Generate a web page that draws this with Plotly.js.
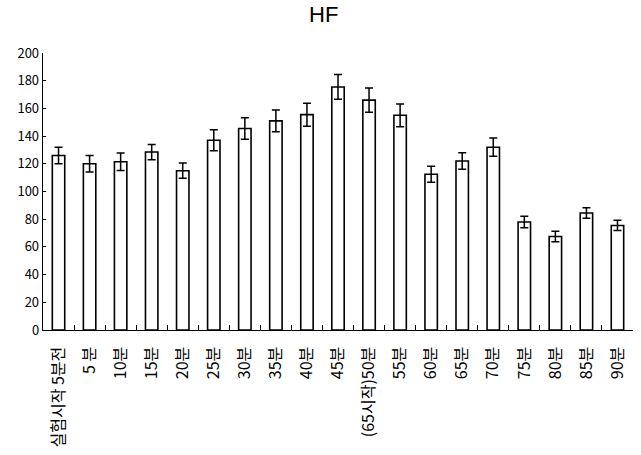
<!DOCTYPE html>
<html>
<head>
<meta charset="utf-8">
<script src="https://cdn.plot.ly/plotly-3.0.1.min.js"></script>
<style>html,body{margin:0;padding:0;background:#fff;}#chart{width:641px;height:455px;}</style>
</head>
<body>
<div id="chart"></div>
<script>
const categories = ["실험시작 5분전", "5 분", "10분", "15분", "20분", "25분", "30분", "35분", "40분", "45분",
  "(65시작)50분", "55분", "60분", "65분", "70분", "75분", "80분", "85분", "90분"];
const hfValues = [126, 120, 121.5, 128.5, 115, 137, 145.5, 151, 155.5, 175.5, 166, 155, 112.5, 122, 132, 78, 67.5, 84.5, 75.5];
const hfErrors = [6, 6, 6.3, 5.5, 5.5, 7.5, 7.8, 7.8, 8.3, 8.9, 8.7, 8.2, 5.8, 6, 6.6, 4.2, 3.8, 3.8, 3.7];
const yTicks = [0, 20, 40, 60, 80, 100, 120, 140, 160, 180, 200];

const fontFam = '"Noto Sans CJK KR", "Liberation Sans", sans-serif';

const trace = {
  type: 'bar',
  x: categories,
  y: hfValues,
  width: 0.40,
  marker: {color: '#ffffff', line: {color: '#000000', width: 1.6}},
  error_y: {type: 'data', array: hfErrors, visible: true, color: '#000000', thickness: 1.5, width: 4},
  hoverinfo: 'skip'
};

const layout = {
  width: 641, height: 455,
  margin: {l: 43, r: 8, t: 53, b: 125, pad: 0},
  paper_bgcolor: '#ffffff', plot_bgcolor: '#ffffff',
  showlegend: false,
  title: {text: 'HF', x: 0.505, xanchor: 'center', y: 0.968, yanchor: 'middle',
    font: {family: '"Liberation Sans", sans-serif', size: 22, color: '#000000'}},
  xaxis: {
    type: 'category', showgrid: false, zeroline: false,
    showline: true, linecolor: '#000000', linewidth: 1.3,
    ticks: 'inside', tickson: 'boundaries', ticklen: 5, tickcolor: '#000000', tickwidth: 1,
    tickangle: -90, tickfont: {family: fontFam, size: 16, color: '#000000'},
    ticklabelstandoff: 9,
    automargin: false
  },
  yaxis: {
    range: [0, 200], tickvals: yTicks, ticktext: yTicks.map(String),
    showgrid: false, zeroline: false,
    showline: true, linecolor: '#000000', linewidth: 1.3,
    ticks: 'inside', ticklen: 3, tickcolor: '#000000', tickwidth: 1,
    tickfont: {family: fontFam, size: 13, color: '#000000'},
    automargin: false
  }
};

Plotly.newPlot('chart', [trace], layout, {displayModeBar: false, staticPlot: true});
</script>
</body>
</html>
